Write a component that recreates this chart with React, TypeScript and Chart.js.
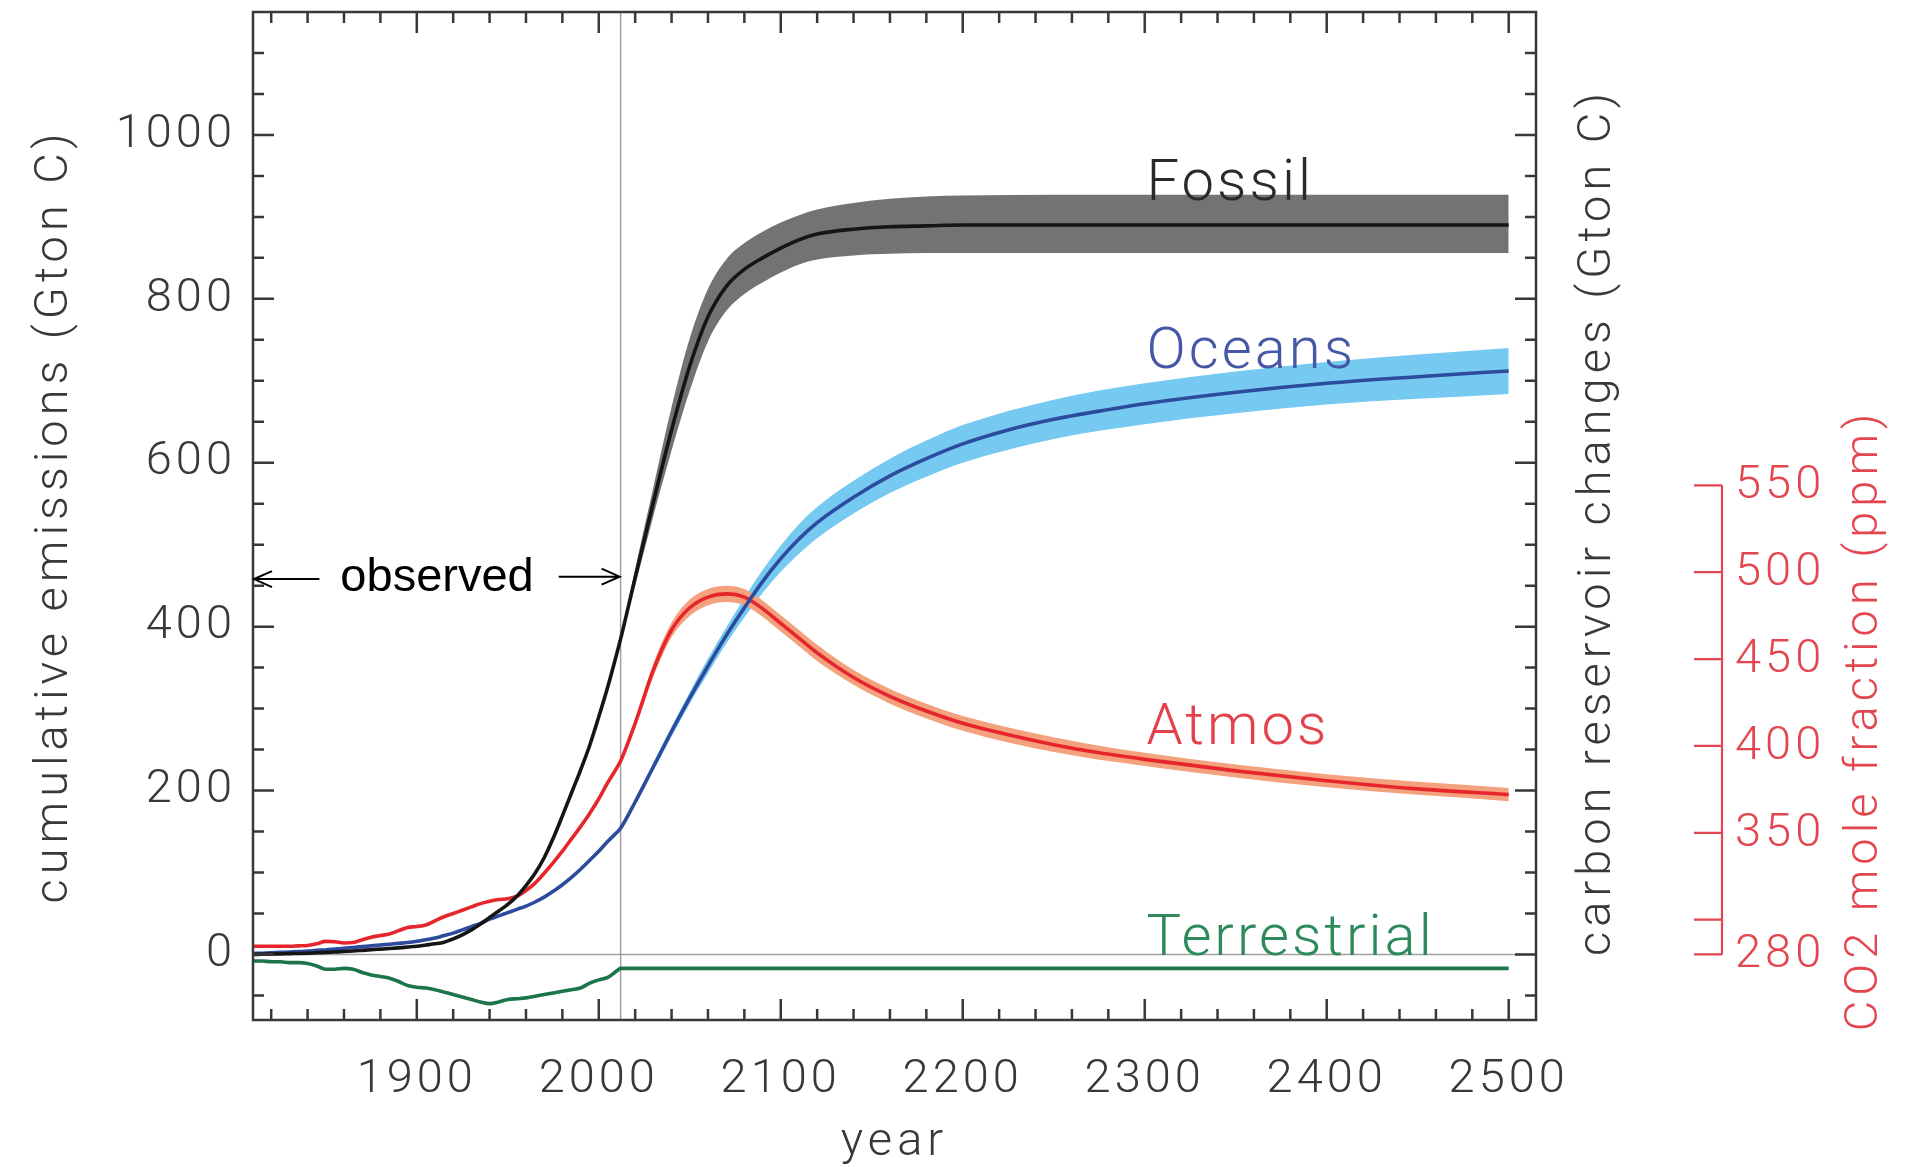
import React, { useEffect, useRef } from "react";
import { Chart, registerables } from "chart.js";

Chart.register(...registerables);

// ---------- data ----------
const years = [
  1810, 1815, 1820, 1825, 1830, 1835, 1840, 1845, 1850, 1855, 1860, 1865, 1870, 1875, 1880, 1885, 1890, 1895,
  1900, 1905, 1910, 1915, 1920, 1925, 1930, 1935, 1940, 1945, 1950, 1955, 1960, 1965, 1970, 1975, 1980, 1985,
  1990, 1995, 2000, 2005, 2010, 2012, 2020, 2030, 2040, 2050, 2060, 2070, 2080, 2090, 2100, 2110, 2120, 2140,
  2160, 2180, 2200, 2225, 2250, 2275, 2300, 2350, 2400, 2450, 2500,
];
const fossil = [
  0, 0.2, 0.5, 0.7, 1, 1.2, 1.5, 2, 2.5, 3, 3.5, 4.2, 5, 5.8, 6.5, 7.2, 8, 9,
  10, 11.5, 13, 15, 19, 24, 30, 37, 45, 53, 61, 71, 84, 99, 118, 142, 169, 197,
  225, 255, 290, 327, 368, 385, 460, 552, 640, 718, 778, 815, 836, 850, 862, 872, 879, 885,
  888, 889, 890, 890, 890, 890, 890, 890, 890, 890, 890,
];
const oceans = [
  1, 1.5, 2, 2.5, 3, 3.5, 4, 5, 5.5, 6.5, 7.5, 8.5, 9.5, 10.5, 11.5, 12.5, 13.5, 14.5,
  16, 18, 20, 23, 26, 30, 34, 38, 43, 47, 51, 55, 59, 64, 70, 77, 85, 94,
  104, 115, 126, 138, 149, 154, 186, 229, 272, 313, 352, 389, 423, 455, 483, 507, 527, 558,
  584, 605, 623, 640, 653, 663, 672, 686, 697, 705, 712,
];
const atmos = [
  10, 10, 10, 10, 10, 10.5, 11, 13, 16, 15.5, 14, 14.5, 18, 21, 23, 25, 29, 33,
  34, 36, 41, 46, 50, 54, 58, 62, 65, 67, 68, 71, 78, 87, 99, 112, 126, 141,
  156, 172, 190, 210, 228, 236, 282, 347, 396, 423, 436, 440, 436, 422, 404, 386, 368, 338,
  315, 297, 282, 268, 256, 246, 238, 224, 212, 202, 195,
];
const terrestrial = [
  -8, -8, -9, -9, -10, -10, -11, -14, -18, -18, -17, -18, -22, -25, -27, -29, -33, -38,
  -40, -41, -43, -46, -49, -52, -55, -58, -60, -58, -55, -54, -53, -51, -49, -47, -45, -43,
  -41, -35, -31, -28, -20, -17, -17, -17, -17, -17, -17, -17, -17, -17, -17, -17, -17, -17,
  -17, -17, -17, -17, -17, -17, -17, -17, -17, -17, -17,
];

const bandYears = [2012, 2020, 2030, 2040, 2050, 2060, 2070, 2080, 2090, 2100, 2110, 2120, 2140, 2160, 2180, 2200, 2250, 2300, 2400, 2500];
const fossilUpper = [385, 470, 570, 668, 752, 812, 848, 868, 882, 893, 902, 909, 917, 922, 925, 926, 927, 927, 927, 927];
const fossilLower = [385, 450, 535, 615, 688, 748, 785, 806, 820, 832, 842, 848, 853, 855, 856, 856, 856, 856, 856, 856];
const oceansUpper = [154, 189, 234, 278, 320, 361, 399, 435, 469, 499, 525, 546, 578, 605, 627, 646, 677, 697, 723, 740];
const oceansLower = [154, 183, 224, 266, 306, 343, 379, 411, 441, 467, 489, 508, 538, 563, 583, 600, 629, 647, 671, 684];
const atmosUpper = [236, 287, 355, 405, 433, 446, 450, 446, 432, 414, 396, 378, 347, 324, 306, 291, 265, 246, 220, 203];
const atmosLower = [236, 277, 339, 387, 413, 426, 430, 426, 412, 394, 376, 358, 329, 306, 288, 273, 247, 230, 204, 187];

const xMajorTicks = [1900, 2000, 2100, 2200, 2300, 2400, 2500];
const yMajorTicks = [0, 200, 400, 600, 800, 1000];
const ppmTicks = [280, 300, 350, 400, 450, 500, 550];
const ppmTickLabels = ["280", "", "350", "400", "450", "500", "550"];

const seriesNames = ["Fossil", "Oceans", "Atmos", "Terrestrial"];
const seriesLabelValues = [920, 716, 257, -1];
const seriesLabelYear = 2301;

const X_MIN = 1810;
const X_MAX = 2515;
const Y_MIN = -80;
const Y_MAX = 1150;
const X_MINOR_STEP = 20;
const Y_MINOR_STEP = 50;
const OBSERVED_END = 2012;
const PPM_BASE = 280;
const GTC_PER_PPM = 2.12;

const xTitle = "year";
const leftTitle = "cumulative emissions (Gton C)";
const rightTitle = "carbon reservoir changes (Gton C)";
const ppmTitle = "CO2 mole fraction (ppm)";
const observedText = "observed";

// ---------- styles ----------
const AXIS_COLOR = "#383838";
const RED_AXIS = "#e4464f";
const FONT = "Roboto";
const colors = {
  fossilLine: "#151515",
  fossilBand: "#737373",
  oceansLine: "#2c4b9c",
  oceansBand: "#76c9f0",
  atmosLine: "#e6262c",
  atmosBand: "#f4a17d",
  terrLine: "#1c744a",
};
const labelColors = ["#2a2a2a", "#4558a5", "#e3424c", "#2d8a5c"];

const pts = (xs: number[], ys: number[]) => xs.map((x, i) => ({ x, y: ys[i] }));

function minorTicks(min: number, max: number, step: number) {
  const out: number[] = [];
  for (let v = Math.ceil(min / step) * step; v <= max; v += step) out.push(v);
  return out;
}

const framePlugin = {
  id: "idlFrame",
  beforeDraw(chart: any) {
    chart.ctx.letterSpacing = "4px";
  },
  beforeDatasetsDraw(chart: any) {
    const { ctx, chartArea: a, scales } = chart;
    const x = scales.x, y = scales.y;
    ctx.save();
    ctx.strokeStyle = "#a0a0a0";
    ctx.lineWidth = 1.5;
    const y0 = y.getPixelForValue(0);
    ctx.beginPath();
    ctx.moveTo(a.left, y0);
    ctx.lineTo(a.right, y0);
    const xo = x.getPixelForValue(OBSERVED_END);
    ctx.moveTo(xo, a.top);
    ctx.lineTo(xo, a.bottom);
    ctx.stroke();
    ctx.restore();
  },
  afterDatasetsDraw(chart: any) {
    const { ctx, chartArea: a, scales } = chart;
    const x = scales.x, y = scales.y, yp = scales.yppm;
    ctx.save();
    // frame
    ctx.strokeStyle = AXIS_COLOR;
    ctx.lineWidth = 2.5;
    ctx.lineCap = "butt";
    ctx.strokeRect(a.left, a.top, a.right - a.left, a.bottom - a.top);
    // inward ticks
    ctx.beginPath();
    for (const v of minorTicks(X_MIN + 1, X_MAX, X_MINOR_STEP)) {
      const len = xMajorTicks.includes(v) ? 21 : 11;
      const px = x.getPixelForValue(v);
      ctx.moveTo(px, a.bottom);
      ctx.lineTo(px, a.bottom - len);
      ctx.moveTo(px, a.top);
      ctx.lineTo(px, a.top + len);
    }
    for (const v of minorTicks(Y_MIN + 1, Y_MAX - 1, Y_MINOR_STEP)) {
      const len = yMajorTicks.includes(v) ? 21 : 11;
      const py = y.getPixelForValue(v);
      ctx.moveTo(a.left, py);
      ctx.lineTo(a.left + len, py);
      ctx.moveTo(a.right, py);
      ctx.lineTo(a.right - len, py);
    }
    ctx.stroke();

    // series labels
    ctx.letterSpacing = "3px";
    ctx.font = `300 58px ${FONT}`;
    ctx.textAlign = "left";
    ctx.textBaseline = "alphabetic";
    seriesNames.forEach((name, i) => {
      ctx.fillStyle = labelColors[i];
      ctx.fillText(name, x.getPixelForValue(seriesLabelYear), y.getPixelForValue(seriesLabelValues[i]));
    });

    // observed annotation
    ctx.letterSpacing = "0px";
    ctx.fillStyle = "#000";
    ctx.font = `47px "Liberation Sans", Arial, sans-serif`;
    ctx.fillText(observedText, x.getPixelForValue(1858), y.getPixelForValue(444));
    ctx.strokeStyle = "#000";
    ctx.lineWidth = 2;
    const ay1 = y.getPixelForValue(458);
    const ay2 = y.getPixelForValue(461);
    const l0 = x.getPixelForValue(X_MIN) + 1, l1 = x.getPixelForValue(1846.5);
    const r0 = x.getPixelForValue(1978), r1 = x.getPixelForValue(OBSERVED_END) - 1;
    ctx.beginPath();
    ctx.moveTo(l1, ay1); ctx.lineTo(l0, ay1);
    ctx.moveTo(l0 + 18, ay1 - 8); ctx.lineTo(l0, ay1); ctx.lineTo(l0 + 18, ay1 + 8);
    ctx.moveTo(r0, ay2); ctx.lineTo(r1, ay2);
    ctx.moveTo(r1 - 18, ay2 - 8); ctx.lineTo(r1, ay2); ctx.lineTo(r1 - 18, ay2 + 8);
    ctx.stroke();

    // CO2 axis
    const axX = 1722;
    ctx.strokeStyle = RED_AXIS;
    ctx.lineWidth = 2.2;
    ctx.beginPath();
    ctx.moveTo(axX, yp.getPixelForValue(ppmTicks[ppmTicks.length - 1]));
    ctx.lineTo(axX, yp.getPixelForValue(ppmTicks[0]));
    for (const t of ppmTicks) {
      const py = yp.getPixelForValue(t);
      ctx.moveTo(axX - 28, py);
      ctx.lineTo(axX, py);
    }
    ctx.stroke();
    ctx.fillStyle = RED_AXIS;
    ctx.letterSpacing = "4px";
    ctx.font = `300 47px ${FONT}`;
    ctx.textBaseline = "middle";
    ctx.textAlign = "left";
    ppmTicks.forEach((t, i) => {
      if (ppmTickLabels[i]) ctx.fillText(ppmTickLabels[i], axX + 13, yp.getPixelForValue(t) + 1);
    });

    // titles
    ctx.letterSpacing = "5px";
    ctx.font = `300 47px ${FONT}`;
    ctx.textAlign = "center";
    ctx.textBaseline = "middle";
    const rot = (txt: string, cx: number, cy: number, color: string) => {
      ctx.save();
      ctx.translate(cx, cy);
      ctx.rotate(-Math.PI / 2);
      ctx.fillStyle = color;
      ctx.fillText(txt, 0, 0);
      ctx.restore();
    };
    const midY = (a.top + a.bottom) / 2;
    rot(leftTitle, 55, midY, AXIS_COLOR);
    rot(rightTitle, 1598, midY + 6, AXIS_COLOR);
    const ppmMid = (yp.getPixelForValue(ppmTicks[0]) + yp.getPixelForValue(ppmTicks[ppmTicks.length - 1])) / 2;
    rot(ppmTitle, 1865, ppmMid, RED_AXIS);
    ctx.fillStyle = AXIS_COLOR;
    ctx.fillText(xTitle, (a.left + a.right) / 2, 1143);
    ctx.restore();
  },
  afterDraw(chart: any) {
    chart.ctx.letterSpacing = "0px";
  },
};

export default function App() {
  const ref = useRef<HTMLCanvasElement>(null);
  useEffect(() => {
    const canvas = ref.current;
    if (!canvas) return;
    const band = (data: number[], color: string | false, fill: any) => ({
      data: pts(bandYears, data),
      fill,
      backgroundColor: color || "transparent",
      borderWidth: 0,
      pointRadius: 0,
      cubicInterpolationMode: "monotone" as const,
      order: 10,
    });
    const line = (label: string, ys: number[], color: string) => ({
      label,
      data: pts(years, ys),
      borderColor: color,
      borderWidth: 3.6,
      pointRadius: 0,
      fill: false,
      cubicInterpolationMode: "monotone" as const,
      order: 1,
    });
    const tickFont = { family: FONT, size: 47, weight: "300" as any };
    const chart = new Chart(canvas, {
      type: "line",
      data: {
        datasets: [
          band(fossilUpper, colors.fossilBand, "+1"),
          band(fossilLower, false, false),
          band(atmosUpper, colors.atmosBand, "+1"),
          band(atmosLower, false, false),
          band(oceansUpper, colors.oceansBand, "+1"),
          band(oceansLower, false, false),
          line("Fossil", fossil, colors.fossilLine),
          line("Oceans", oceans, colors.oceansLine),
          line("Atmos", atmos, colors.atmosLine),
          line("Terrestrial", terrestrial, colors.terrLine),
        ] as any,
      },
      options: {
        responsive: false,
        animation: false,
        devicePixelRatio: 1,
        events: [],
        layout: { padding: { left: 0, top: 12, right: 369, bottom: 0 } },
        plugins: { legend: { display: false }, tooltip: { enabled: false } },
        scales: {
          x: {
            type: "linear",
            position: "bottom",
            min: X_MIN,
            max: X_MAX,
            afterBuildTicks: (s: any) => {
              s.ticks = xMajorTicks.map((v) => ({ value: v }));
            },
            afterFit: (s: any) => {
              s.height = 147;
              s.paddingLeft = 0;
              s.paddingRight = 0;
            },
            grid: { display: false, drawTicks: false },
            border: { display: false },
            ticks: {
              font: tickFont,
              color: AXIS_COLOR,
              padding: 32,
              maxRotation: 0,
              autoSkip: false,
              callback: (v: any) => String(v),
            },
          },
          y: {
            type: "linear",
            position: "left",
            min: Y_MIN,
            max: Y_MAX,
            afterBuildTicks: (s: any) => {
              s.ticks = yMajorTicks.map((v) => ({ value: v }));
            },
            afterFit: (s: any) => {
              s.width = 253;
              s.paddingTop = 0;
              s.paddingBottom = 0;
            },
            grid: { display: false, drawTicks: false },
            border: { display: false },
            ticks: {
              font: tickFont,
              color: AXIS_COLOR,
              padding: 17,
              autoSkip: false,
              callback: (v: any) => String(v),
            },
          },
          yppm: {
            type: "linear",
            display: false,
            min: PPM_BASE + Y_MIN / GTC_PER_PPM,
            max: PPM_BASE + Y_MAX / GTC_PER_PPM,
          },
        },
      } as any,
      plugins: [framePlugin],
    });
    return () => chart.destroy();
  }, []);
  return (
    <div style={{ position: "absolute", left: 0, top: 0, width: 1905, height: 1167, background: "#fff" }}>
      <canvas ref={ref} width={1905} height={1167} style={{ display: "block", width: 1905, height: 1167 }} />
    </div>
  );
}
